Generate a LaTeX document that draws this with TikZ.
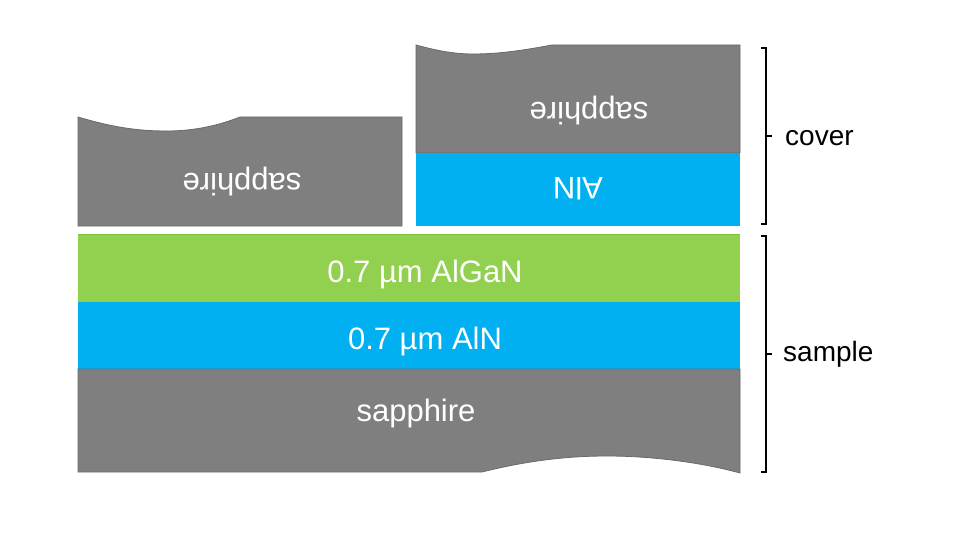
\documentclass[tikz,border=0pt]{standalone}
\usepackage{fontspec}
\setmainfont{Liberation Sans}
\definecolor{sgrey}{HTML}{7F7F7F}
\definecolor{sgreyd}{HTML}{6A6A6A}
\definecolor{sblue}{HTML}{00B0F0}
\definecolor{sgreen}{HTML}{92D050}
\definecolor{sgreend}{HTML}{7CC23A}
\tikzset{
  sapph/.style={fill=sgrey, draw=sgreyd, line width=0.8pt},
  alnl/.style={fill=sblue},
  algan/.style={fill=sgreen},
  wtext/.style={text=white, font=\fontsize{31}{37}\selectfont, inner sep=0pt},
  ltext/.style={text=black, font=\fontsize{28}{33}\selectfont, inner sep=0pt, anchor=west},
  brk/.style={line width=1.4pt, black}
}
\begin{document}
\begin{tikzpicture}[x=1pt,y=-1pt]
\useasboundingbox (0,0) rectangle (960,540);
% left cover sapphire
\path[sapph] (78,117) .. controls (115,128) and (140,131) .. (167,131)
  .. controls (195,131) and (220,125) .. (240,117) -- (402,117) -- (402,226) -- (78,226) -- cycle;
% right cover sapphire
\path[sapph] (416,45) .. controls (438,51) and (455,54) .. (473,54)
  .. controls (500,54) and (525,50) .. (552,45) -- (740,45) -- (740,153) -- (416,153) -- cycle;
% right cover AlN
\path[alnl] (416,153) rectangle (740,226);
% sample layers
\path[algan] (78,234) rectangle (740,302);
\draw[sgreend, line width=0.8pt] (78,234.4) -- (740,234.4);
\path[alnl] (78,302) rectangle (740,369);
\path[sapph] (78,369) -- (740,369) -- (740,473)
  .. controls (700,462) and (650,456) .. (607,456)
  .. controls (570,456) and (530,460) .. (482,472) -- (78,472) -- cycle;
% texts
\node[wtext, rotate=180] (lcs) at (242,182) {sapphire};
\node[wtext, rotate=180] (rcs) at (589,111) {sapphire};
\node[wtext, rotate=180] (rca) at (578,189) {AlN};
\node[wtext] (sga) at (425,274) {0.7 µm AlGaN};
\node[wtext] (sal) at (425,341) {0.7 µm AlN};
\node[wtext] (ssa) at (416,413) {sapphire};
% brackets
\coordinate (ct) at (766,48);
\coordinate (cb) at (766,224);
\coordinate (cm) at (766,136);
\coordinate (st) at (766,236);
\coordinate (sb) at (766,472);
\coordinate (sm) at (766,354);
\draw[brk] ([xshift=-5pt]ct) -- (ct) -- (cb) -- ([xshift=-5pt]cb);
\draw[brk] (cm) -- ([xshift=6pt]cm);
\draw[brk] ([xshift=-5pt]st) -- (st) -- (sb) -- ([xshift=-5pt]sb);
\draw[brk] (sm) -- ([xshift=6pt]sm);
\node[ltext] (lc) at (785,138) {cover};
\node[ltext] (ls) at (783,354) {sample};
\end{tikzpicture}
\end{document}
